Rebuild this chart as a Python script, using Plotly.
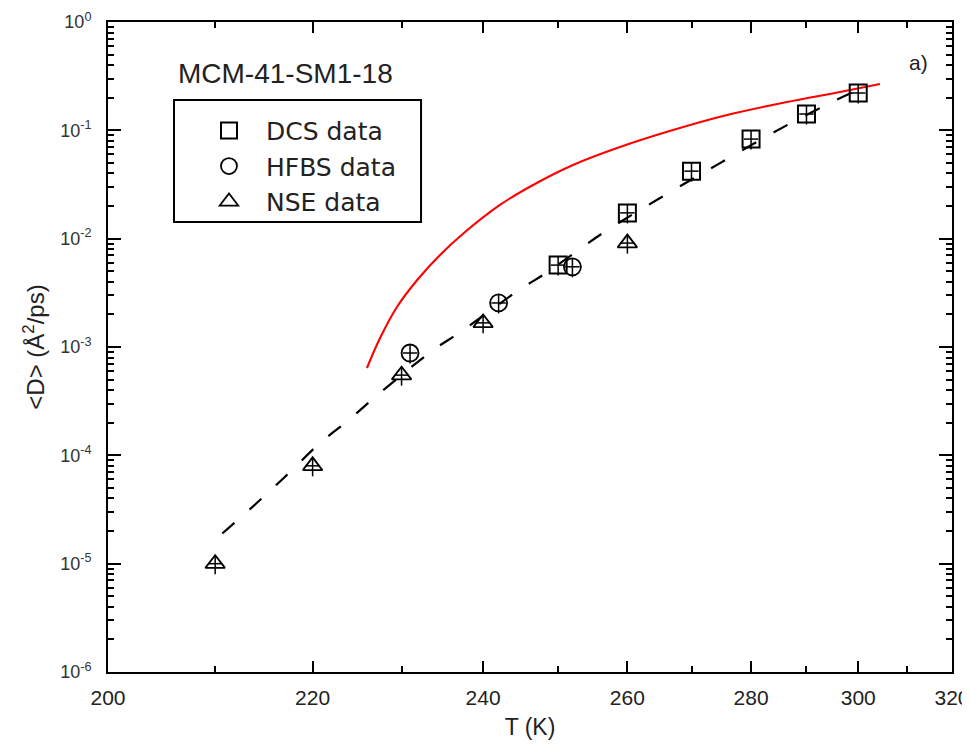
import plotly.graph_objects as go

# ---------------- data ----------------
dcs_T = [250, 260, 270, 280, 290, 300]
dcs_D = [5.7e-3, 1.73e-2, 4.2e-2, 8.3e-2, 0.1415, 0.221]

hfbs_T = [231, 242, 252]
hfbs_D = [8.8e-4, 2.55e-3, 5.5e-3]

nse_T = [210, 220, 230, 240, 260]
nse_D = [1.0e-5, 8.0e-5, 5.5e-4, 1.67e-3, 9.1e-3]

# dashed fit curve (black)
fit_T = [210.7, 214.8, 217.8, 220.8, 223.9, 227.2, 233.8, 237.1, 244.8,
         248.5, 256.4, 265.0, 274.2, 284.2, 294.5, 300.0]
fit_D = [1.9e-5, 4.1e-5, 7.3e-5, 1.3e-4, 2.1e-4, 3.6e-4, 9.4e-4, 1.37e-3, 3.4e-3,
         4.9e-3, 1.13e-2, 2.37e-2, 4.8e-2, 9.7e-2, 0.179, 0.236]

# solid red curve
model_T = [226.0, 227.5, 229.46, 231.95, 234.61, 237.71, 242.18, 246.56, 252.08,
           258.89, 267.04, 275.88, 286.4, 296.4, 304.4]
model_D = [6.4e-4, 1.21e-3, 2.34e-3, 4.24e-3, 7.07e-3, 1.152e-2, 2.05e-2, 3.13e-2, 4.79e-2,
           7.02e-2, 0.1007, 0.1385, 0.1826, 0.226, 0.2677]

major_T = [200, 220, 240, 260, 280, 300, 320]
minor_T = [210, 230, 250, 270, 290, 310]
y_exponents = [0, -1, -2, -3, -4, -5, -6]


def inv(T):
    # the temperature axis is linear in 1/T (Arrhenius plot)
    return [1000.0 / t for t in T]


FONT = "Liberation Sans, Arial, sans-serif"
LEGFONT = "DejaVu Sans, Liberation Sans, sans-serif"

err_y = dict(type="percent", value=20, color="black", thickness=1.5, width=0)
err_x = dict(type="constant", value=0.016, color="black", thickness=1.5, width=0)

fig = go.Figure()

fig.add_trace(go.Scatter(
    x=inv(model_T), y=model_D, mode="lines",
    line=dict(color="#ff0000", width=2.1, shape="spline", smoothing=1.0),
    showlegend=False, hoverinfo="skip"))

fig.add_trace(go.Scatter(
    x=inv(fit_T), y=fit_D, mode="lines",
    line=dict(color="black", width=2.2, dash="16px,20px", shape="spline"),
    showlegend=False, hoverinfo="skip"))

fig.add_trace(go.Scatter(
    x=inv(dcs_T), y=dcs_D, mode="markers", name="DCS data",
    marker=dict(symbol="square-open", size=17, color="black", line=dict(width=2, color="black")),
    error_y=err_y, error_x=err_x))

fig.add_trace(go.Scatter(
    x=inv(hfbs_T), y=hfbs_D, mode="markers", name="HFBS data",
    marker=dict(symbol="circle-open", size=17, color="black", line=dict(width=1.8, color="black")),
    error_y=err_y, error_x=err_x))

fig.add_trace(go.Scatter(
    x=inv(nse_T), y=nse_D, mode="markers", name="NSE data",
    marker=dict(symbol="triangle-up-open", size=17, color="black", line=dict(width=1.8, color="black")),
    error_y=err_y, error_x=err_x))

fig.update_xaxes(
    range=[1000.0 / 200, 1000.0 / 320],
    tickmode="array", tickvals=inv(major_T), ticktext=[str(t) for t in major_T],
    ticks="inside", ticklen=11, tickwidth=1.8, tickcolor="black",
    minor=dict(tickmode="array", tickvals=inv(minor_T), ticks="inside",
               ticklen=6, tickwidth=1.8, tickcolor="black"),
    showline=True, linecolor="black", linewidth=2, mirror="ticks",
    showgrid=False, zeroline=False,
    ticklabelstandoff=6,
    tickfont=dict(family=FONT, size=21, color="#222"),
    title=dict(text="T (K)", font=dict(family=FONT, size=23, color="#222"), standoff=11),
)

fig.update_yaxes(
    type="log", range=[-6, 0],
    tickmode="array", tickvals=[10.0 ** e for e in y_exponents],
    ticktext=["10<sup>%d</sup>" % e for e in y_exponents],
    ticks="inside", ticklen=13, tickwidth=1.8, tickcolor="black",
    minor=dict(tickmode="array",
               tickvals=[k * 10.0 ** e for e in range(-6, 0) for k in range(2, 10)],
               ticks="inside", ticklen=6, tickwidth=1.5, tickcolor="black"),
    showline=True, linecolor="black", linewidth=2, mirror="ticks",
    showgrid=False, zeroline=False,
    ticklabelstandoff=11,
    tickfont=dict(family=FONT, size=18, color="#333"),
    title=dict(text="&lt;D&gt; (Å<sup>2</sup>/ps)", font=dict(family=FONT, size=24, color="#222"),
               standoff=9),
)

fig.add_annotation(text="MCM-41-SM1-18", xref="paper", yref="paper",
                   x=0.081, y=0.9215, xanchor="left", yanchor="middle",
                   showarrow=False, font=dict(family=FONT, size=28, color="#222"))
fig.add_annotation(text="a)", xref="paper", yref="paper",
                   x=0.96, y=0.938, xanchor="center", yanchor="middle",
                   showarrow=False, font=dict(family=FONT, size=21, color="#222"))

# legend frame
fig.add_shape(type="rect", xref="paper", yref="paper",
              x0=0.0782, x1=0.3709, y0=0.6923, y1=0.88,
              line=dict(color="black", width=2), fillcolor="white", layer="above")

# the page body has an 8px margin, so the figure is 8px smaller and margins shifted
fig.update_layout(
    width=962, height=737,
    margin=dict(l=100, r=18, t=14, b=73, autoexpand=False),
    paper_bgcolor="white", plot_bgcolor="white",
    showlegend=True,
    legend=dict(x=0.0758, y=0.868, xanchor="left", yanchor="top",
                borderwidth=0, bgcolor="rgba(0,0,0,0)",
                font=dict(family=LEGFONT, size=25, color="#222"),
                tracegroupgap=0, itemwidth=64, indentation=20),
)

fig.write_html("out.html")
